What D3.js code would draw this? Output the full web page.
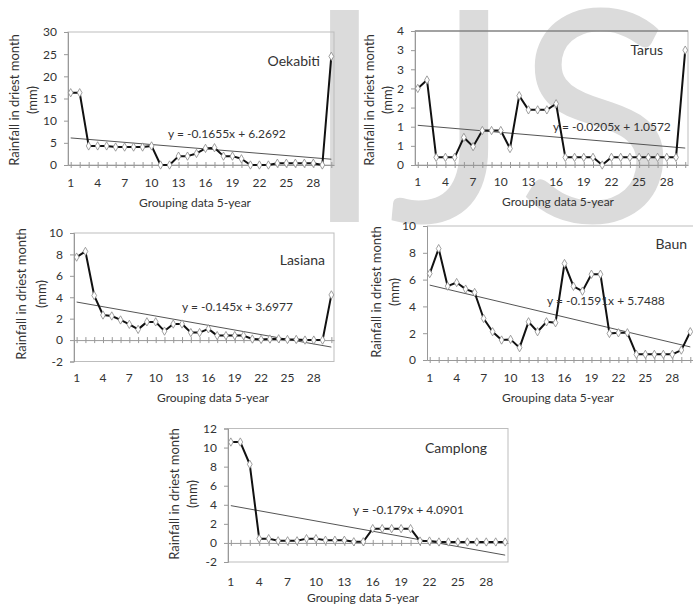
<!DOCTYPE html>
<html>
<head>
<meta charset="utf-8">
<script src="https://cdn.jsdelivr.net/npm/d3@7"></script>
<style>
  body { margin: 0; background: #fff; }
  svg { display: block; }
  text { font-family: Lato, "Open Sans", sans-serif; fill: #333; }
</style>
</head>
<body>
<script>
var width = 693;
var height = 607;

// 5-year groups 1..30
var groups = d3.range(1, 31);
var xTickLabels = [1, 4, 7, 10, 13, 16, 19, 22, 25, 28];

var oekabiti = [16.3, 16.3, 4.3, 4.3, 4.3, 4.05, 4.05, 4.05, 4.05, 4.3,
                0, 0, 2.0, 2.0, 2.6, 3.75, 3.9, 2.0, 2.0, 1.4,
                0, 0, 0, 0.4, 0.4, 0.4, 0.4, 0.4, 0, 24.5];
var tarus = [2.0, 2.22, 0.2, 0.2, 0.2, 0.72, 0.48, 0.9, 0.9, 0.9,
             0.43, 1.81, 1.44, 1.44, 1.44, 1.6, 0.2, 0.2, 0.2, 0.2,
             0, 0.2, 0.2, 0.2, 0.2, 0.2, 0.2, 0.2, 0.2, 3.0];
var lasiana = [7.75, 8.28, 4.16, 2.34, 2.25, 1.88, 1.47, 1.0, 1.7, 1.7,
               0.84, 1.5, 1.5, 0.7, 0.7, 1.05, 0.42, 0.42, 0.42, 0.42,
               0.1, 0.06, 0.1, 0.12, 0.06, 0.06, 0, 0, 0, 4.22];
var baun = [6.45, 8.31, 5.51, 5.78, 5.29, 5.04, 3.1, 2.11, 1.49, 1.54,
            0.92, 2.85, 2.11, 2.85, 2.78, 7.2, 5.5, 5.14, 6.4, 6.4,
            1.98, 2.03, 2.03, 0.42, 0.42, 0.42, 0.42, 0.42, 0.74, 2.11];
var camplong = [10.58, 10.58, 8.25, 0.45, 0.45, 0.22, 0.22, 0.22, 0.45, 0.45,
                0.28, 0.28, 0.28, 0.12, 0.12, 1.5, 1.5, 1.5, 1.5, 1.5,
                0.2, 0.2, 0.1, 0.1, 0.1, 0.1, 0.1, 0.1, 0.1, 0.1];

var stations = ["Oekabiti", "Tarus", "Lasiana", "Baun", "Camplong"];
var series = [oekabiti, tarus, lasiana, baun, camplong];
var slopes = [-0.1655, -0.0205, -0.145, -0.1591, -0.179];
var intercepts = [6.2692, 1.0572, 3.6977, 5.7488, 4.0901];
var equations = ["y = -0.1655x + 6.2692", "y = -0.0205x + 1.0572", "y = -0.145x + 3.6977",
                 "y = -0.1591x + 5.7488", "y = -0.179x + 4.0901"];

var yTicks = [
  [0, 5, 10, 15, 20, 25, 30],
  [0, 0.5, 1, 1.5, 2, 2.5, 3, 3.5],
  [-2, 0, 2, 4, 6, 8, 10],
  [0, 2, 4, 6, 8, 10],
  [-2, 0, 2, 4, 6, 8, 10, 12]
];
var yTickLabels = [
  ["0", "5", "10", "15", "20", "25", "30"],
  ["0", "1", "1", "2", "2", "3", "3", "4"],
  ["-2", "0", "2", "4", "6", "8", "10"],
  ["0", "2", "4", "6", "8", "10"],
  ["-2", "0", "2", "4", "6", "8", "10", "12"]
];

// panel geometry (pixels)
var panels = [
  {left: 68, right: 334, top: 32, bottom: 165, name: [320, 66], eq: [168, 138], lab: 187, xt: [195, 207], yt: [15, 33, 100], box: "all"},
  {left: 415, right: 688, top: 31, bottom: 165, name: [663, 55], eq: [553, 131], lab: 186, xt: [558, 206], yt: [370, 388, 100], box: "all"},
  {left: 74, right: 334, top: 233, bottom: 361.5, name: [325, 265], eq: [182, 311], lab: 382, xt: [213, 402], yt: [22, 42, 294], box: "all"},
  {left: 427, right: 693, top: 226, bottom: 360, name: [687, 249], eq: [547, 305], lab: 382, xt: [558, 402], yt: [377, 395, 292], box: "top"},
  {left: 228, right: 508, top: 428.5, bottom: 562, name: [487, 453], eq: [353, 514], lab: 586, xt: [363, 602], yt: [175, 193, 494], box: "all"}
];

var svg = d3.select("body")
  .append("svg")
  .attr("width", width)
  .attr("height", height);

// faint watermark behind the charts
var wm = svg.append("g")
  .style("font-family", "'Liberation Sans', Arial, sans-serif")
  .style("font-size", "296px");
wm.append("text").attr("x", 303).attr("y", 222).style("fill", "#dbdbdb").text("I");
wm.append("text").attr("x", 388).attr("y", 222).style("fill", "#dbdbdb").text("J");
wm.append("text").attr("x", 516).attr("y", 222).style("fill", "#dbdbdb").text("S");

for (var i = 0; i < panels.length; i++) {
  drawPanel(panels[i], i);
}

function drawPanel(p, i) {
  var data = series[i];
  var ticks = yTicks[i];
  var ymin = ticks[0], ymax = ticks[ticks.length - 1];

  var x = d3.scalePoint()
    .domain(groups)
    .range([p.left, p.right])
    .padding(0.3);
  var y = d3.scaleLinear()
    .domain([ymin, ymax])
    .range([p.bottom, p.top]);

  var g = svg.append("g");

  // plot border
  if (p.box === "all") {
    g.append("rect")
      .attr("x", p.left).attr("y", p.top)
      .attr("width", p.right - p.left).attr("height", p.bottom - p.top)
      .attr("fill", "none").attr("stroke", "#bdbdbd").attr("stroke-width", 1);
  } else {
    g.append("line")
      .attr("x1", p.left).attr("x2", p.right)
      .attr("y1", p.top).attr("y2", p.top)
      .attr("stroke", "#bdbdbd");
  }
  if (i === 1) {
    g.append("line")
      .attr("x1", p.left).attr("x2", p.right)
      .attr("y1", p.top).attr("y2", p.top)
      .attr("stroke", "#666");
  }

  // y axis
  var yAxis = d3.axisLeft(y)
    .tickValues(ticks)
    .tickSize(4)
    .tickPadding(7)
    .tickFormat(function(d, k) { return yTickLabels[i][k]; });
  var ya = g.append("g")
    .attr("transform", "translate(" + p.left + ",0)")
    .call(yAxis);
  ya.select(".domain").attr("stroke", "#999");
  ya.selectAll(".tick line").attr("stroke", "#999");
  ya.selectAll(".tick text")
    .style("font-family", "Lato, sans-serif")
    .style("font-size", "12px")
    .attr("fill", "#333");

  // category axis on the zero line
  var xAxis = d3.axisBottom(x)
    .tickValues(groups)
    .tickSize(0)
    .tickFormat("");
  var xa = g.append("g")
    .attr("transform", "translate(0," + y(0) + ")")
    .call(xAxis);
  xa.select(".domain").attr("stroke", "#999");
  xa.selectAll(".tick line")
    .attr("y1", -3).attr("y2", 3)
    .attr("stroke", "#999");

  // category labels under the plot
  g.selectAll("text.xlab")
    .data(xTickLabels)
    .enter()
    .append("text")
    .attr("class", "xlab")
    .attr("x", function(d) { return x(d); })
    .attr("y", p.lab)
    .attr("text-anchor", "middle")
    .style("font-size", "12px")
    .text(function(d) { return d; });

  // trend line
  var trend = [groups[0], groups[groups.length - 1]];
  g.append("line")
    .attr("x1", x(trend[0])).attr("y1", y(slopes[i] * trend[0] + intercepts[i]))
    .attr("x2", x(trend[1])).attr("y2", y(slopes[i] * trend[1] + intercepts[i]))
    .attr("stroke", "#555").attr("stroke-width", 1);

  // data line
  var line = d3.line()
    .x(function(d, k) { return x(groups[k]); })
    .y(function(d) { return y(d); });
  g.append("path")
    .datum(data)
    .attr("d", line)
    .attr("fill", "none")
    .attr("stroke", "#111")
    .attr("stroke-width", 2)
    .attr("stroke-linejoin", "round");

  // diamond markers
  g.selectAll("path.mk")
    .data(data)
    .enter()
    .append("path")
    .attr("class", "mk")
    .attr("d", d3.symbol(d3.symbolDiamond, 20))
    .attr("transform", function(d, k) { return "translate(" + x(groups[k]) + "," + y(d) + ")"; })
    .attr("fill", "#fff")
    .attr("stroke", "#888")
    .attr("stroke-width", 0.8);

  // station name
  g.append("text")
    .attr("x", p.name[0]).attr("y", p.name[1])
    .attr("text-anchor", "end")
    .style("font-size", "14px")
    .text(stations[i]);

  // equation
  g.append("text")
    .attr("x", p.eq[0]).attr("y", p.eq[1])
    .style("font-size", "12px")
    .text(equations[i]);

  // x title
  g.append("text")
    .attr("x", p.xt[0]).attr("y", p.xt[1])
    .attr("text-anchor", "middle")
    .style("font-size", "12px")
    .text("Grouping data 5-year");

  // y title, two lines
  g.append("text")
    .attr("transform", "translate(" + (p.yt[0] + 4) + "," + p.yt[2] + ") rotate(-90)")
    .attr("text-anchor", "middle")
    .style("font-size", "13px")
    .text("Rainfall in driest  month");
  g.append("text")
    .attr("transform", "translate(" + (p.yt[1] + 4) + "," + p.yt[2] + ") rotate(-90)")
    .attr("text-anchor", "middle")
    .style("font-size", "13px")
    .text("(mm)");
}
</script>
</body>
</html>
